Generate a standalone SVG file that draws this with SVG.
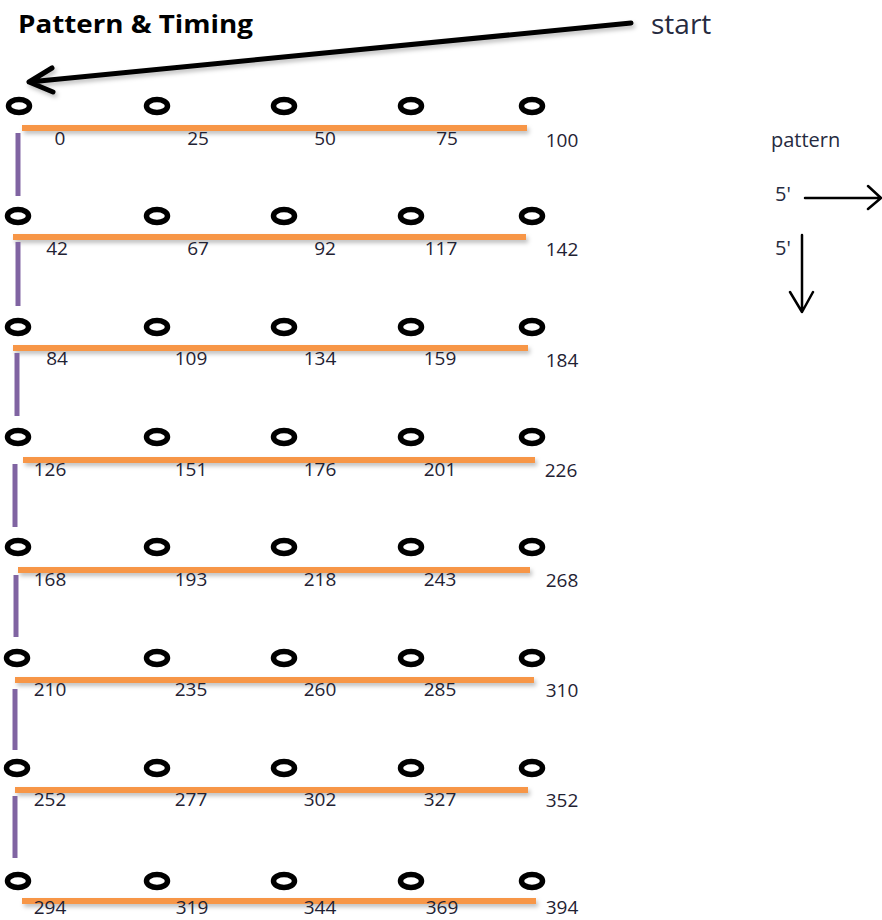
<svg xmlns="http://www.w3.org/2000/svg" width="882" height="920" viewBox="0 0 882 920">
<defs>
<style>
.ring{fill:none;stroke:#000;stroke-width:5.5}
.lbl{font-family:"Open Sans","Liberation Sans",sans-serif;font-size:19px;fill:#1f2233;text-anchor:middle}
.txt{font-family:"Open Sans","Liberation Sans",sans-serif;fill:#262b40}
.ttl{font-family:"Open Sans","Liberation Sans",sans-serif;font-size:25px;font-weight:bold;fill:#000}
.row{stroke:#f79646;stroke-width:6;fill:none}
.col{stroke:#8064a2;stroke-width:5;fill:none}
.blk{stroke:#000;fill:none;stroke-linecap:round;stroke-linejoin:round}
</style>
<filter id="sh" x="-5%" y="-100%" width="110%" height="400%">
<feDropShadow dx="2" dy="3" stdDeviation="2" flood-color="#000" flood-opacity="0.25"/>
</filter>
</defs>
<rect width="882" height="920" fill="#fff"/>
<text class="ttl" x="18" y="33" textLength="235" lengthAdjust="spacingAndGlyphs">Pattern &amp; Timing</text>
<text class="txt" x="651" y="34" font-size="28">start</text>
<text class="txt" x="771" y="147" font-size="20">pattern</text>
<text class="txt" x="775" y="201" font-size="20">5'</text>
<text class="txt" x="775" y="255" font-size="20">5'</text>

<g id="connectors">
<g filter="url(#sh)">
<line class="row" x1="22" y1="128" x2="527" y2="128"/>
<line class="row" x1="13" y1="237" x2="526" y2="237"/>
<line class="row" x1="13" y1="348" x2="528" y2="348"/>
<line class="row" x1="23" y1="460" x2="535" y2="460"/>
<line class="row" x1="18" y1="570" x2="530" y2="570"/>
<line class="row" x1="15" y1="680" x2="534" y2="680"/>
<line class="row" x1="15" y1="790" x2="528" y2="790"/>
<line class="row" x1="22" y1="901" x2="536" y2="901"/>
<path class="blk" stroke-width="5" d="M631,23 L29,82 M52,68 L29,82 L53,92"/>
</g>
<line class="col" x1="18" y1="133" x2="18" y2="196"/>
<line class="col" x1="18" y1="242" x2="18" y2="306"/>
<line class="col" x1="17" y1="353" x2="17" y2="416"/>
<line class="col" x1="15" y1="464" x2="15" y2="527"/>
<line class="col" x1="16" y1="575" x2="16" y2="637"/>
<line class="col" x1="15" y1="689" x2="15" y2="750"/>
<line class="col" x1="15" y1="796" x2="15" y2="858"/>
<path class="blk" stroke-width="2.5" d="M805,198 L880,198 M868,186 L881,198 L868,209"/>
<path class="blk" stroke-width="2.5" d="M802,235 L802,312 M790,292 L802,312 L813,292"/>
</g>

<g id="row1">
<g id="n0"><ellipse class="ring" cx="19" cy="106" rx="10.5" ry="6.5"/><text class="lbl" x="60" y="145">0</text></g>
<g id="n25"><ellipse class="ring" cx="157" cy="106" rx="10.5" ry="6.5"/><text class="lbl" x="198" y="145">25</text></g>
<g id="n50"><ellipse class="ring" cx="284" cy="106" rx="10.5" ry="6.5"/><text class="lbl" x="325" y="145">50</text></g>
<g id="n75"><ellipse class="ring" cx="411" cy="106" rx="10.5" ry="6.5"/><text class="lbl" x="447" y="145">75</text></g>
<g id="n100"><ellipse class="ring" cx="532" cy="106" rx="10.5" ry="6.5"/><text class="lbl" x="562" y="147">100</text></g>
</g>
<g id="row2">
<g id="n42"><ellipse class="ring" cx="18" cy="216" rx="10.5" ry="6.5"/><text class="lbl" x="57" y="255">42</text></g>
<g id="n67"><ellipse class="ring" cx="157" cy="216" rx="10.5" ry="6.5"/><text class="lbl" x="198" y="255">67</text></g>
<g id="n92"><ellipse class="ring" cx="284" cy="216" rx="10.5" ry="6.5"/><text class="lbl" x="325" y="255">92</text></g>
<g id="n117"><ellipse class="ring" cx="411" cy="216" rx="10.5" ry="6.5"/><text class="lbl" x="441" y="255">117</text></g>
<g id="n142"><ellipse class="ring" cx="532" cy="216" rx="10.5" ry="6.5"/><text class="lbl" x="562" y="256">142</text></g>
</g>
<g id="row3">
<g id="n84"><ellipse class="ring" cx="18" cy="327" rx="10.5" ry="6.5"/><text class="lbl" x="57" y="365">84</text></g>
<g id="n109"><ellipse class="ring" cx="157" cy="327" rx="10.5" ry="6.5"/><text class="lbl" x="191" y="365">109</text></g>
<g id="n134"><ellipse class="ring" cx="284" cy="327" rx="10.5" ry="6.5"/><text class="lbl" x="320" y="365">134</text></g>
<g id="n159"><ellipse class="ring" cx="411" cy="327" rx="10.5" ry="6.5"/><text class="lbl" x="440" y="365">159</text></g>
<g id="n184"><ellipse class="ring" cx="532" cy="327" rx="10.5" ry="6.5"/><text class="lbl" x="562" y="367">184</text></g>
</g>
<g id="row4">
<g id="n126"><ellipse class="ring" cx="18" cy="437" rx="10.5" ry="6.5"/><text class="lbl" x="50" y="476">126</text></g>
<g id="n151"><ellipse class="ring" cx="157" cy="437" rx="10.5" ry="6.5"/><text class="lbl" x="191" y="476">151</text></g>
<g id="n176"><ellipse class="ring" cx="284" cy="437" rx="10.5" ry="6.5"/><text class="lbl" x="320" y="476">176</text></g>
<g id="n201"><ellipse class="ring" cx="411" cy="437" rx="10.5" ry="6.5"/><text class="lbl" x="440" y="476">201</text></g>
<g id="n226"><ellipse class="ring" cx="532" cy="437" rx="10.5" ry="6.5"/><text class="lbl" x="561" y="477">226</text></g>
</g>
<g id="row5">
<g id="n168"><ellipse class="ring" cx="18" cy="547" rx="10.5" ry="6.5"/><text class="lbl" x="50" y="586">168</text></g>
<g id="n193"><ellipse class="ring" cx="157" cy="547" rx="10.5" ry="6.5"/><text class="lbl" x="191" y="586">193</text></g>
<g id="n218"><ellipse class="ring" cx="284" cy="547" rx="10.5" ry="6.5"/><text class="lbl" x="320" y="586">218</text></g>
<g id="n243"><ellipse class="ring" cx="411" cy="547" rx="10.5" ry="6.5"/><text class="lbl" x="440" y="586">243</text></g>
<g id="n268"><ellipse class="ring" cx="532" cy="547" rx="10.5" ry="6.5"/><text class="lbl" x="562" y="587">268</text></g>
</g>
<g id="row6">
<g id="n210"><ellipse class="ring" cx="17" cy="658" rx="10.5" ry="6.5"/><text class="lbl" x="50" y="696">210</text></g>
<g id="n235"><ellipse class="ring" cx="157" cy="658" rx="10.5" ry="6.5"/><text class="lbl" x="191" y="696">235</text></g>
<g id="n260"><ellipse class="ring" cx="284" cy="658" rx="10.5" ry="6.5"/><text class="lbl" x="320" y="696">260</text></g>
<g id="n285"><ellipse class="ring" cx="411" cy="658" rx="10.5" ry="6.5"/><text class="lbl" x="440" y="696">285</text></g>
<g id="n310"><ellipse class="ring" cx="532" cy="658" rx="10.5" ry="6.5"/><text class="lbl" x="562" y="697">310</text></g>
</g>
<g id="row7">
<g id="n252"><ellipse class="ring" cx="17" cy="768" rx="10.5" ry="6.5"/><text class="lbl" x="50" y="806">252</text></g>
<g id="n277"><ellipse class="ring" cx="157" cy="768" rx="10.5" ry="6.5"/><text class="lbl" x="191" y="806">277</text></g>
<g id="n302"><ellipse class="ring" cx="284" cy="768" rx="10.5" ry="6.5"/><text class="lbl" x="320" y="806">302</text></g>
<g id="n327"><ellipse class="ring" cx="411" cy="768" rx="10.5" ry="6.5"/><text class="lbl" x="440" y="806">327</text></g>
<g id="n352"><ellipse class="ring" cx="532" cy="768" rx="10.5" ry="6.5"/><text class="lbl" x="562" y="807">352</text></g>
</g>
<g id="row8">
<g id="n294"><ellipse class="ring" cx="18" cy="881" rx="10.5" ry="6.5"/><text class="lbl" x="50" y="914">294</text></g>
<g id="n319"><ellipse class="ring" cx="157" cy="881" rx="10.5" ry="6.5"/><text class="lbl" x="192" y="914">319</text></g>
<g id="n344"><ellipse class="ring" cx="284" cy="881" rx="10.5" ry="6.5"/><text class="lbl" x="320" y="914">344</text></g>
<g id="n369"><ellipse class="ring" cx="411" cy="881" rx="10.5" ry="6.5"/><text class="lbl" x="442" y="914">369</text></g>
<g id="n394"><ellipse class="ring" cx="532" cy="881" rx="10.5" ry="6.5"/><text class="lbl" x="562" y="914">394</text></g>
</g>
</svg>
